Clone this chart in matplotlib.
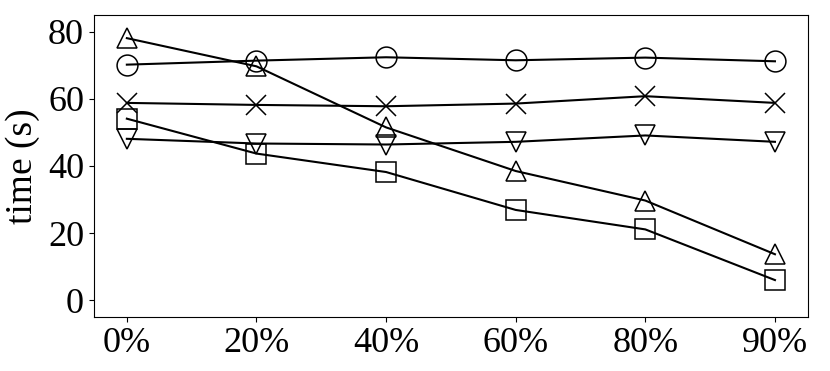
import numpy as np
import matplotlib.pyplot as plt

plt.rcParams['font.family'] = ['Liberation Serif', 'DejaVu Serif']

labels = ['0%', '20%', '40%', '60%', '80%', '90%']
circle_vals = [70.2, 71.4, 72.4, 71.5, 72.3, 71.2]
cross_vals = [58.8, 58.2, 57.8, 58.6, 60.8, 58.8]
tri_up_vals = [78.1, 69.7, 51.5, 38.5, 29.7, 13.7]
tri_down_vals = [48.1, 46.7, 46.4, 47.2, 49.1, 47.2]
square_vals = [54.1, 43.7, 38.2, 26.9, 21.1, 6.0]

x = np.arange(len(labels))

fig = plt.figure(figsize=(8.3, 3.71), dpi=100)
ax = fig.add_axes([0.113, 0.1456, 0.8605, 0.814])

series = [
    (circle_vals, 'o'),
    (cross_vals, 'x'),
    (tri_up_vals, '^'),
    (tri_down_vals, 'v'),
    (square_vals, 's'),
]
for vals, m in series:
    ax.plot(x, vals, color='black', linewidth=1.5, marker=m, markersize=15,
            markerfacecolor='none', markeredgecolor='black', markeredgewidth=1.1)

ax.set_xticks(x)
ax.set_xticklabels(labels)
ax.set_yticks([0, 20, 40, 60, 80])
ax.set_ylim(-5, 85)
ax.set_xlim(-0.255, 5.255)
ax.tick_params(labelsize=26)
ax.set_ylabel('time (s)', fontsize=27, labelpad=6)

plt.savefig('out.png')
